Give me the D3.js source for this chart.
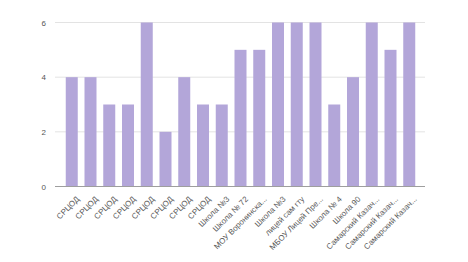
<!DOCTYPE html>
<html>
<head>
<meta charset="utf-8">
<script src="https://cdn.jsdelivr.net/npm/d3@7"></script>
<style>
  body { margin: 0; background: #fff; }
  svg { display: block; font-family: "Liberation Sans", Arial, sans-serif; }
</style>
</head>
<body>
<svg id="chart" width="468" height="262"></svg>
<script>
const categories = ["СРЦОД", "СРЦОД", "СРЦОД", "СРЦОД", "СРЦОД", "СРЦОД", "СРЦОД", "СРЦОД",
  "Школа №3", "Школа № 72", "МОУ Воронинска...", "Школа №3", "лицей сам гту",
  "МБОУ Лицей Пре...", "Школа № 4", "Школа 90", "Самарский Казач...", "Самарский Казач...",
  "Самарский Казач..."];
const values = [4, 4, 3, 3, 6, 2, 4, 3, 3, 5, 5, 6, 6, 6, 3, 4, 6, 5, 6];
const yTicks = [0, 2, 4, 6];

const svg = d3.select("#chart");
const x = d3.scaleBand().domain(d3.range(categories.length)).range([59, 422]).padding(0.36);
const y = d3.scaleLinear().domain([0, 6]).range([186.5, 22.5]);

// gridlines
svg.append("g").selectAll("line").data(yTicks.filter(d => d > 0)).join("line")
  .attr("x1", 55).attr("x2", 425)
  .attr("y1", d => y(d)).attr("y2", d => y(d))
  .attr("stroke", "#e3e3e3").attr("stroke-width", 1);

// bars
svg.append("g").selectAll("rect").data(values).join("rect")
  .attr("x", (d, i) => x(i))
  .attr("width", x.bandwidth())
  .attr("y", d => y(d))
  .attr("height", d => y(0) - y(d))
  .attr("fill", "#b3a6d9");

// baseline
svg.append("line")
  .attr("x1", 55).attr("x2", 425)
  .attr("y1", y(0)).attr("y2", y(0))
  .attr("stroke", "#9e9e9e").attr("stroke-width", 1.2);

// y axis
const yAxis = svg.append("g")
  .attr("transform", "translate(49,0)")
  .call(d3.axisLeft(y).tickValues(yTicks).tickSize(0).tickFormat(d3.format("d")));
yAxis.select(".domain").remove();
yAxis.selectAll("text").attr("fill", "#555").attr("font-size", 8).attr("dx", 0);

// x axis
const xAxis = svg.append("g")
  .attr("transform", `translate(0,${y(0)})`)
  .call(d3.axisBottom(x).tickSize(0).tickFormat(i => categories[i]));
xAxis.select(".domain").remove();
xAxis.selectAll("text")
  .attr("fill", "#5a5a5a").attr("font-size", 8)
  .attr("text-anchor", "end")
  .attr("dy", "0.35em")
  .attr("transform", "translate(4,9) rotate(-45)");
</script>
</body>
</html>
